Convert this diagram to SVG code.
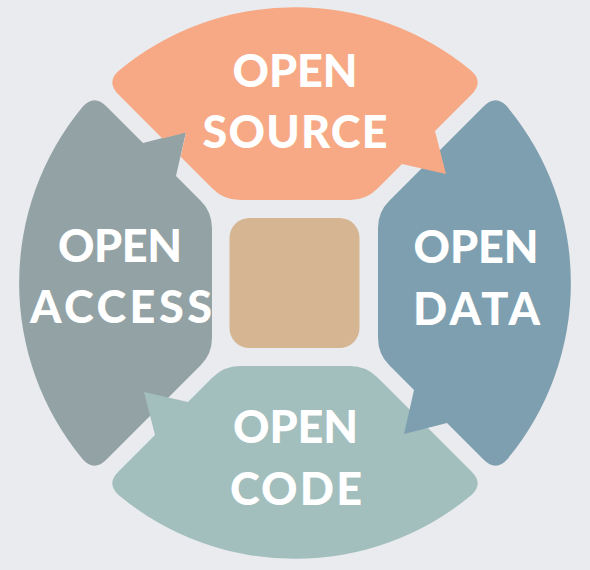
<svg xmlns="http://www.w3.org/2000/svg" width="590" height="570" viewBox="0 0 590 570">
  <style>
    .lbl { font-family: "Lato", "Liberation Sans", sans-serif; font-weight: 900; font-size: 45px; fill: #FFFFFF; text-anchor: middle; }
  </style>
  <defs>
    <path id="petal" d="M -176.5,-188.5 Q -189.07,-201.07 -176.2,-212.3 A 276 276 0 0 1 176.2,-212.3 Q 189.07,-201.07 176.5,-188.5 L 140,-152 L 151,-109 L 107,-119 L 82.3,-94.3 Q 71,-83 55,-83 L -55,-83 Q -71,-83 -82.3,-94.3 Z"/>
  </defs>
  <rect x="0" y="0" width="590" height="570" fill="#E9EBEE"/>

  <g id="open-access">
    <use href="#petal" transform="translate(295,283) rotate(270)" fill="#93A2A5"/>
    <text class="lbl" x="120" y="262" textLength="124" lengthAdjust="spacing">OPEN</text>
    <text class="lbl" x="121" y="323" textLength="182" lengthAdjust="spacing">ACCESS</text>
  </g>

  <g id="open-code">
    <use href="#petal" transform="translate(295,283) rotate(180)" fill="#A2BEBD"/>
    <text class="lbl" x="295.5" y="443" textLength="125" lengthAdjust="spacing">OPEN</text>
    <text class="lbl" x="296" y="505" textLength="132" lengthAdjust="spacing">CODE</text>
  </g>

  <g id="open-data">
    <use href="#petal" transform="translate(295,283) rotate(90)" fill="#7E9FAF"/>
    <text class="lbl" x="476" y="263" textLength="125" lengthAdjust="spacing">OPEN</text>
    <text class="lbl" x="476.5" y="325" textLength="127" lengthAdjust="spacing">DATA</text>
  </g>

  <g id="open-source">
    <path transform="translate(295,283)" fill="#F6A984" d="M -176.5,-188.5 Q -189.07,-201.07 -176.2,-212.3 A 276 276 0 0 1 176.2,-212.3 Q 189.07,-201.07 176.5,-188.5 L 140,-152 L 151,-109 L 107,-119 L 82.3,-94.3 Q 71,-83 55,-83 L -55,-83 Q -71,-83 -82.3,-94.3 L -114.3,-126.3 L -109,-150.5 L -132.6,-144.6 Z"/>
    <text class="lbl" x="295" y="87" textLength="125" lengthAdjust="spacing">OPEN</text>
    <text class="lbl" x="295" y="148" textLength="185" lengthAdjust="spacing">SOURCE</text>
  </g>

  <g id="center">
    <rect x="229.5" y="218" width="130" height="130" rx="20" ry="20" fill="#D5B592"/>
  </g>

  <g id="connectors"/>
</svg>
